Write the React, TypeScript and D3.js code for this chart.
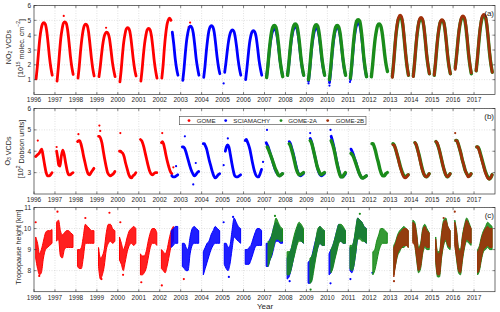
import React from 'react';
import * as d3 from 'd3';

// instruments and colours
const instruments = ['GOME', 'SCIAMACHY', 'GOME-2A', 'GOME-2B'];
const colors = ['#ff0000', '#0000ff', '#1a8c1a', '#a0300a'];

const yearTicks = d3.range(1996, 2018);

// ---- (a) NO2 VCDs, 1e15 molec/cm2 : seasonal samples at fixed fractions of the year
const no2Phase = [0.10, 0.16, 0.22, 0.28, 0.34, 0.40, 0.47, 0.54, 0.60, 0.67, 0.74, 0.81, 0.87];
type Season = [number, (number | null)[]];
const no2Gome: Season[] = [
  [1996, [1.05, 1.9, 2.9, 3.8, 4.4, 4.75, 4.85, 4.75, 4.35, 3.5, 2.5, 1.75, 1.3]],
  [1997, [0.9, 1.8, 2.85, 3.8, 4.4, 4.8, 4.9, 4.8, 4.4, 3.55, 2.55, 1.8, 1.35]],
  [1998, [1.1, 1.9, 2.9, 3.7, 4.3, 4.65, 4.75, 4.65, 4.25, 3.4, 2.45, 1.7, 1.25]],
  [1999, [1.2, 1.85, 2.65, 3.35, 3.85, 4.1, 4.2, 4.1, 3.8, 3.05, 2.2, 1.6, 1.2]],
  [2000, [0.85, 1.65, 2.65, 3.5, 4.05, 4.4, 4.5, 4.4, 4.05, 3.25, 2.35, 1.65, 1.25]],
  [2001, [0.9, 1.7, 2.65, 3.45, 4.0, 4.35, 4.45, 4.35, 4.0, 3.2, 2.25, 1.55, 1.1]],
  [2002, [1.1, 1.95, 3.1, 4.0, 4.65, 5.0, 5.15, 5.0, null, null, null, null, null]],
];
const no2Scia: Season[] = [
  [2002, [null, null, null, null, null, null, null, null, 4.2, 3.4, 2.4, 1.7, 1.3]],
  [2003, [0.95, 1.75, 2.75, 3.6, 4.15, 4.5, 4.6, 4.5, 4.15, 3.35, 2.4, 1.75, 1.3]],
  [2004, [1.15, 1.9, 2.85, 3.65, 4.25, 4.55, 4.65, 4.55, 4.2, 3.4, 2.5, 1.8, 1.4]],
  [2005, [1.5, 2.15, 2.9, 3.55, 4.0, 4.25, 4.35, 4.25, 3.9, 3.2, 2.35, 1.7, 1.3]],
  [2006, [1.0, 1.75, 2.6, 3.4, 3.9, 4.2, 4.3, 4.2, 3.9, 3.15, 2.3, 1.7, 1.3]],
  [2007, [1.2, 1.9, 2.75, 3.5, 4.0, 4.3, 4.4, 4.3, 3.95, 3.2, 2.3, 1.65, 1.25]],
  [2008, [1.3, 2.0, 2.9, 3.65, 4.15, 4.45, 4.55, 4.45, 4.1, 3.3, 2.4, 1.7, 1.3]],
  [2009, [0.9, 1.7, 2.65, 3.45, 4.0, 4.35, 4.45, 4.35, 4.0, 3.25, 2.35, 1.7, 1.3]],
  [2010, [0.8, 1.6, 2.6, 3.45, 4.05, 4.4, 4.5, 4.4, 4.05, 3.3, 2.4, 1.7, 1.3]],
  [2011, [1.0, 1.85, 2.85, 3.75, 4.35, 4.7, 4.8, 4.7, 4.3, 3.45, 2.4, 1.65, 1.2]],
];
const no2Gome2a: Season[] = [
  [2007, [1.15, 1.9, 2.85, 3.65, 4.25, 4.55, 4.65, 4.55, 4.15, 3.35, 2.35, 1.65, 1.2]],
  [2008, [1.3, 2.05, 3.0, 3.8, 4.35, 4.65, 4.75, 4.65, 4.25, 3.45, 2.45, 1.75, 1.3]],
  [2009, [1.0, 1.8, 2.8, 3.65, 4.25, 4.6, 4.7, 4.6, 4.2, 3.4, 2.45, 1.75, 1.3]],
  [2010, [1.0, 1.8, 2.8, 3.65, 4.2, 4.55, 4.65, 4.55, 4.2, 3.4, 2.45, 1.75, 1.3]],
  [2011, [1.1, 1.95, 3.05, 3.95, 4.6, 4.95, 5.05, 4.95, 4.5, 3.6, 2.5, 1.7, 1.2]],
  [2012, [1.2, 2.0, 2.95, 3.75, 4.3, 4.65, 4.75, 4.65, 4.3, 3.55, 2.65, 1.95, 1.55]],
  [2013, [1.2, 2.1, 3.15, 4.1, 4.7, 5.1, 5.2, 5.1, 4.65, 3.7, 2.65, 1.8, 1.3]],
  [2014, [1.25, 2.1, 3.15, 4.0, 4.65, 5.0, 5.1, 5.0, 4.6, 3.7, 2.65, 1.9, 1.4]],
  [2015, [1.3, 2.1, 3.1, 3.95, 4.55, 4.9, 5.0, 4.9, 4.5, 3.65, 2.6, 1.85, 1.4]],
  [2016, [1.8, 2.55, 3.45, 4.25, 4.8, 5.1, 5.2, 5.1, 4.65, 3.75, 2.7, 1.9, 1.4]],
  [2017, [1.6, 2.4, 3.4, 4.25, 4.85, 5.2, 5.3, 5.2, 4.75, 3.85, 2.8, 2.0, 1.5]],
];
const no2Gome2b: Season[] = [
  [2013, [1.15, 2.05, 3.2, 4.15, 4.85, 5.2, 5.35, 5.25, 4.8, 3.8, 2.7, 1.85, 1.3]],
  [2014, [1.2, 2.1, 3.15, 4.1, 4.7, 5.1, 5.2, 5.1, 4.65, 3.75, 2.7, 1.9, 1.4]],
  [2015, [1.3, 2.15, 3.15, 4.0, 4.6, 4.95, 5.05, 4.95, 4.55, 3.65, 2.65, 1.85, 1.4]],
  [2016, [1.7, 2.5, 3.45, 4.3, 4.85, 5.2, 5.3, 5.2, 4.75, 3.85, 2.75, 1.95, 1.45]],
  [2017, [1.6, 2.45, 3.45, 4.35, 4.95, 5.3, 5.4, 5.3, 4.85, 3.9, 2.85, 2.0, 1.5]],
];
// [decimal year, value, instrument index]
const no2Extra: [number, number, number][] = [
  [1997.42, 5.3, 0], [1999.44, 4.5, 0], [2003.12, 1.0, 0], [2003.3, 3.8, 0], [2003.38, 4.55, 0],
  [2003.45, 4.85, 0], [2005.05, 0.75, 1], [2009.1, 0.75, 1], [2010.1, 0.6, 1], [2011.08, 0.85, 1],
];

// ---- (b) O3 VCDs, 100 DU
const o3Phase = [0.08, 0.13, 0.18, 0.24, 0.30, 0.37, 0.44, 0.51, 0.58, 0.65, 0.72, 0.79, 0.86];
const o3Gome: Season[] = [
  [1996, [3.75, 3.8, 3.85, 3.9, 4.0, 4.1, 3.75, 3.35, 3.0, 2.85, 2.85, 2.9, 3.0]],
  [1997, [4.0, 3.7, 3.35, 3.3, 3.75, 4.05, 3.85, 3.45, 3.1, 2.9, 2.9, 2.95, 3.0]],
  [1998, [4.45, 4.5, 4.5, 4.35, 4.1, 3.75, 3.45, 3.15, 2.95, 2.9, 3.0, 3.1, 3.2]],
  [1999, [4.7, 4.7, 4.6, 4.4, 4.05, 3.65, 3.3, 3.0, 2.9, 2.85, 2.9, 2.95, 3.05]],
  [2000, [4.0, 4.0, 3.95, 3.9, 3.75, 3.45, 3.2, 2.95, 2.8, 2.75, 2.85, 2.9, 3.0]],
  [2001, [4.55, 4.5, 4.4, 4.2, 3.95, 3.65, 3.35, 3.1, 2.95, 2.9, 2.95, 3.0, 3.0]],
  [2002, [4.4, 4.45, 4.35, 4.1, 3.8, 3.5, 3.25, 3.05, 2.95, null, null, null, null]],
];
const o3Scia: Season[] = [
  [2002, [null, null, null, null, null, null, null, null, 2.85, 2.8, 2.8, 2.85, 2.9]],
  [2003, [4.2, 4.2, 4.15, 4.0, 3.8, 3.55, 3.3, 3.1, 2.95, 2.85, 2.9, 3.0, 3.05]],
  [2004, [4.35, 4.35, 4.25, 4.1, 3.85, 3.55, 3.3, 3.05, 2.85, 2.75, 2.8, 2.9, 2.95]],
  [2005, [null, 4.0, 4.2, 4.3, 4.2, 3.85, 3.45, 3.1, 2.85, 2.8, 2.8, 2.85, 2.9]],
  [2006, [4.5, 4.55, 4.45, 4.3, 4.1, 3.75, 3.4, 3.1, 2.9, 2.8, 2.8, 2.95, 3.15]],
  [2007, [4.4, 4.3, 4.2, 4.0, 3.8, 3.6, 3.35, 3.15, 3.0, 2.9, 2.85, 2.9, 2.95]],
  [2008, [null, null, 4.45, 4.35, 4.15, 3.9, 3.6, 3.3, 3.05, 2.9, 2.85, 2.9, 2.95]],
  [2009, [null, null, 4.6, 4.45, 4.2, 3.9, 3.6, 3.3, 3.05, 2.9, 2.85, 2.9, 2.95]],
  [2010, [null, null, 4.7, 4.5, 4.25, 3.9, 3.55, 3.25, 3.0, 2.8, 2.8, 2.85, 2.95]],
  [2011, [null, 4.1, 4.0, 3.85, 3.65, 3.45, 3.2, 3.0, 2.85, 2.75, 2.75, 2.8, 2.85]],
];
const o3Gome2a: Season[] = [
  [2007, [null, 4.2, 4.1, 3.95, 3.8, 3.6, 3.4, 3.2, 3.05, 2.9, 2.85, 2.9, 2.95]],
  [2008, [null, null, 4.35, 4.25, 4.05, 3.8, 3.5, 3.2, 3.0, 2.9, 2.9, 2.95, 3.0]],
  [2009, [null, null, 4.5, 4.4, 4.2, 3.9, 3.6, 3.3, 3.1, 2.95, 2.9, 2.95, 3.0]],
  [2010, [null, null, 4.5, 4.35, 4.15, 3.85, 3.5, 3.2, 2.95, 2.8, 2.8, 2.9, 3.0]],
  [2011, [null, 3.9, 3.85, 3.75, 3.6, 3.4, 3.2, 3.0, 2.85, 2.75, 2.75, 2.8, 2.85]],
  [2012, [null, 4.35, 4.35, 4.2, 4.0, 3.7, 3.45, 3.15, 2.95, 2.85, 2.85, 2.95, 3.0]],
  [2013, [null, 4.35, 4.3, 4.15, 3.95, 3.7, 3.45, 3.2, 3.0, 2.85, 2.8, 2.85, 2.9]],
  [2014, [null, null, 4.4, 4.3, 4.1, 3.85, 3.55, 3.25, 3.0, 2.85, 2.8, 2.85, 2.95]],
  [2015, [null, null, 4.45, 4.35, 4.2, 3.95, 3.65, 3.35, 3.1, 2.9, 2.8, 2.85, 2.95]],
  [2016, [null, 4.5, 4.5, 4.35, 4.15, 3.9, 3.6, 3.35, 3.1, 2.95, 2.85, 2.85, 2.95]],
  [2017, [null, 4.2, 4.2, 4.1, 3.9, 3.65, 3.4, 3.15, 2.95, 2.8, 2.7, 2.75, 2.9]],
];
const o3Gome2b: Season[] = [
  [2013, [null, 4.3, 4.3, 4.15, 3.95, 3.7, 3.4, 3.15, 2.95, 2.8, 2.75, 2.8, 2.9]],
  [2014, [null, null, 4.4, 4.3, 4.1, 3.8, 3.5, 3.2, 3.0, 2.85, 2.8, 2.85, 2.95]],
  [2015, [null, null, 4.45, 4.4, 4.2, 3.95, 3.65, 3.35, 3.1, 2.9, 2.8, 2.85, 2.95]],
  [2016, [null, 4.5, 4.5, 4.35, 4.15, 3.9, 3.6, 3.35, 3.1, 2.95, 2.8, 2.85, 2.95]],
  [2017, [null, 4.2, 4.2, 4.05, 3.85, 3.6, 3.35, 3.1, 2.9, 2.75, 2.7, 2.75, 2.9]],
];
const o3Extra: [number, number, number][] = [
  [1996.18, 4.5, 0], [1997.08, 4.2, 0], [1998.12, 4.8, 0], [1999.12, 5.2, 0], [1999.16, 4.95, 0],
  [2000.12, 4.85, 0], [2002.12, 4.85, 0], [2002.65, 3.25, 0], [2003.2, 4.7, 1], [2003.6, 2.45, 1],
  [2003.72, 3.45, 1], [2002.78, 3.3, 1], [2005.05, 3.35, 1], [2005.25, 4.6, 1], [2006.93, 3.5, 1],
  [2007.12, 5.0, 1], [2009.18, 4.85, 1], [2010.15, 5.0, 1], [2016.1, 4.85, 3],
];

// ---- (c) tropopause height, km : lower / upper edge of the cloud
const tpPhase = [0.08, 0.17, 0.26, 0.35, 0.45, 0.55, 0.65, 0.75, 0.86];
type Band = [number, (number | null)[], (number | null)[]];
const tpGome: Band[] = [
  [1996, [8.6, 8.1, 7.8, 7.9, 8.6, 9.0, 9.1, 9.2, 9.3], [9.6, 9.3, 8.8, 9.0, 9.4, 9.8, 9.9, 9.9, 9.95]],
  [1997, [9.4, 9.5, 8.7, 8.6, 9.0, 9.1, 9.1, 9.1, 9.1], [10.3, 10.4, 9.9, 9.7, 9.8, 9.9, 9.9, 9.8, 9.7]],
  [1998, [8.2, 8.1, 8.1, 8.6, 9.3, 9.3, 9.3, 9.3, 9.3], [9.0, 9.0, 9.1, 9.6, 10.2, 10.1, 10.0, 9.9, 9.9]],
  [1999, [8.2, 7.6, 7.8, 8.2, 9.0, 9.3, 9.4, 9.3, 9.4], [9.1, 8.6, 8.7, 9.0, 9.8, 10.2, 10.2, 10.0, 9.9]],
  [2000, [8.5, 8.3, 8.0, 8.4, 8.9, 9.2, 9.3, 9.2, 9.3], [9.6, 9.3, 9.0, 9.2, 9.6, 9.9, 10.0, 10.1, 10.0]],
  [2001, [7.8, 7.8, 7.9, 8.1, 8.6, 9.1, 9.3, 9.3, 9.2], [8.8, 8.7, 8.7, 8.9, 9.4, 9.8, 10.0, 10.0, 9.8]],
  [2002, [8.1, 8.0, 7.9, 8.2, 8.7, 9.2, 9.4, null, null], [9.0, 8.9, 8.8, 9.0, 9.5, 9.9, 10.1, null, null]],
];
const tpScia: Band[] = [
  [2002, [null, null, null, null, null, 9.1, 9.2, 9.3, 9.3], [null, null, null, null, null, 9.9, 10.0, 10.1, 10.1]],
  [2003, [8.2, 8.1, 8.0, 8.0, 8.8, 9.2, 9.3, 9.3, 9.3], [9.3, 9.3, 9.1, 9.0, 9.6, 10.0, 10.1, 10.0, 9.9]],
  [2004, [7.8, 8.1, 8.4, 8.7, 9.0, 9.2, 9.3, 9.3, 9.3], [8.9, 9.1, 9.3, 9.4, 9.7, 9.9, 10.1, 10.0, 9.9]],
  [2005, [8.3, 8.1, 8.0, 8.3, 9.0, 9.6, 9.5, 9.4, 9.3], [9.3, 9.3, 9.1, 9.2, 9.9, 10.5, 10.3, 10.1, 10.0]],
  [2006, [8.3, 8.3, 8.3, 8.5, 8.8, 9.1, 9.2, 9.2, 9.2], [9.0, 9.0, 9.1, 9.2, 9.5, 9.8, 10.0, 10.0, 9.9]],
  [2007, [8.2, 8.2, 8.5, 8.7, 9.1, 9.4, 9.4, 9.3, 9.3], [9.3, 9.3, 9.5, 9.7, 10.1, 10.3, 10.2, 10.0, 9.9]],
  [2008, [7.6, 7.7, 8.0, 8.4, 8.9, 9.3, 9.5, 9.4, 9.3], [8.6, 8.8, 9.0, 9.3, 9.6, 10.0, 10.2, 10.1, 9.9]],
  [2009, [7.4, 7.4, 7.6, 8.2, 8.7, 9.1, 9.3, 9.2, 9.2], [8.4, 8.5, 8.7, 9.1, 9.5, 9.9, 10.1, 9.9, 9.9]],
  [2010, [7.8, 7.9, 8.2, 8.6, 9.0, 9.4, 9.4, 9.3, 9.3], [8.8, 9.0, 9.2, 9.5, 9.9, 10.2, 10.1, 10.0, 9.9]],
  [2011, [8.0, 7.9, 8.2, 8.8, 9.5, 9.6, 9.5, 9.4, 9.3], [9.1, 9.1, 9.4, 9.9, 10.5, 10.4, 10.3, 10.1, 10.0]],
];
const tpGome2a: Band[] = [
  [2007, [null, 8.2, 8.5, 8.8, 9.2, 9.5, 9.5, 9.4, 9.4], [null, 9.4, 9.4, 9.7, 10.1, 10.5, 10.3, 10.1, 10.0]],
  [2008, [7.8, 7.8, 8.0, 8.4, 8.8, 9.2, 9.4, 9.4, 9.3], [8.9, 8.9, 9.0, 9.4, 9.8, 10.1, 10.3, 10.2, 10.0]],
  [2009, [null, 7.4, 7.5, 8.0, 8.6, 9.1, 9.3, 9.2, 9.2], [null, 8.6, 8.7, 9.0, 9.5, 10.0, 10.1, 10.0, 9.9]],
  [2010, [null, 7.9, 8.1, 8.5, 8.9, 9.3, 9.4, 9.3, 9.3], [null, 9.0, 9.2, 9.5, 9.9, 10.2, 10.2, 10.1, 9.9]],
  [2011, [8.1, 8.0, 8.2, 8.8, 9.5, 9.5, 9.4, 9.4, 9.3], [9.2, 9.2, 9.4, 10.0, 10.5, 10.4, 10.3, 10.1, 10.0]],
  [2012, [null, 7.8, 8.0, 8.4, 8.9, 9.2, 9.3, 9.3, 9.3], [null, 8.9, 9.0, 9.4, 9.7, 10.0, 10.0, 9.9, 9.8]],
  [2013, [null, 7.8, 8.3, 8.7, 8.9, 9.1, 9.1, 9.2, 9.1], [null, 9.2, 9.4, 9.7, 9.9, 10.0, 10.1, 10.0, 9.9]],
  [2014, [9.4, 9.2, 8.5, 7.9, 8.1, 8.8, 9.1, 9.0, 9.0], [10.4, 10.3, 9.8, 9.1, 9.3, 10.0, 10.2, 10.0, 9.8]],
  [2015, [null, 8.4, 7.7, 7.7, 8.6, 9.2, 9.4, 9.1, 9.0], [null, 9.6, 8.9, 8.9, 9.8, 10.4, 10.5, 10.1, 9.9]],
  [2016, [9.3, 8.5, 7.9, 7.8, 8.5, 9.1, 9.4, 9.3, 9.2], [10.4, 9.9, 9.1, 9.0, 9.7, 10.2, 10.5, 10.3, 10.0]],
  [2017, [null, 7.8, 8.0, 8.5, 8.9, 9.0, 9.1, 9.0, 9.0], [null, 9.0, 9.2, 9.6, 9.9, 10.1, 10.3, 10.2, 10.1]],
];
const tpGome2b: Band[] = [
  [2013, [null, 7.7, 8.3, 8.8, 9.0, 9.1, 9.2, 9.2, 9.1], [null, 9.1, 9.3, 9.6, 9.8, 9.9, 10.0, 10.0, 9.9]],
  [2014, [9.3, 9.2, 8.6, 8.0, 8.2, 8.9, 9.2, 9.1, 9.1], [10.3, 10.2, 9.7, 9.0, 9.2, 9.9, 10.1, 9.9, 9.8]],
  [2015, [null, 8.5, 7.8, 7.8, 8.7, 9.3, 9.5, 9.2, 9.1], [null, 9.5, 8.8, 8.8, 9.7, 10.3, 10.4, 10.1, 9.9]],
  [2016, [9.2, 8.6, 8.0, 7.9, 8.6, 9.2, 9.5, 9.4, 9.3], [10.3, 9.8, 9.0, 8.9, 9.6, 10.1, 10.4, 10.2, 10.0]],
  [2017, [null, 7.9, 8.1, 8.6, 9.0, 9.1, 9.2, 9.1, 9.1], [null, 8.9, 9.1, 9.5, 9.8, 10.0, 10.1, 10.0, 10.0]],
];
const tpExtra: [number, number, number][] = [
  [1996.08, 10.3, 0], [1996.25, 7.75, 0], [1997.12, 10.8, 0], [1998.45, 10.5, 0], [1999.22, 7.6, 0],
  [1999.6, 10.75, 0], [2000.12, 10.3, 0], [2000.25, 7.8, 0], [2001.12, 7.45, 0], [2002.1, 7.3, 0],
  [2003.15, 7.6, 0], [2005.05, 10.3, 1], [2005.3, 7.7, 1], [2005.5, 10.55, 1], [2008.2, 7.5, 1],
  [2009.18, 6.9, 1], [2009.2, 7.1, 2], [2010.15, 7.4, 1], [2011.1, 7.6, 1], [2011.55, 10.7, 2],
  [2007.5, 10.6, 2], [2016.08, 10.8, 3], [2015.55, 10.5, 3], [2012.15, 7.9, 1], [2013.18, 7.5, 3],
];

const W = 500;
const H = 312;
const x = d3.scaleLinear().domain([1996, 2018]).range([34, 495]);

const font = 'Liberation Sans, Arial, Helvetica, sans-serif';

type PanelDef = {
  key: string;
  top: number;
  bottom: number;
  domain: [number, number];
  ticks: number[];
};
const panelDefs: PanelDef[] = [
  { key: 'a', top: 5.5, bottom: 94.5, domain: [0, 6], ticks: [1, 2, 3, 4, 5, 6] },
  { key: 'b', top: 108.5, bottom: 194, domain: [2, 6], ticks: [3, 4, 5, 6] },
  { key: 'c', top: 207.5, bottom: 291.7, domain: [7, 11], ticks: [8, 9, 10, 11] },
];

function Frame({ p, y }: { p: PanelDef; y: d3.ScaleLinear<number, number> }) {
  const [x0, x1] = x.range();
  return (
    <g>
      {yearTicks.slice(1).map((t) => (
        <line key={'gx' + t} x1={x(t)} x2={x(t)} y1={p.top} y2={p.bottom}
          stroke="#c4c4c4" strokeWidth={0.5} strokeDasharray="1,1.5" />
      ))}
      {p.ticks.map((t) => (
        <line key={'gy' + t} x1={x0} x2={x1} y1={y(t)} y2={y(t)}
          stroke="#c4c4c4" strokeWidth={0.5} strokeDasharray="1,1.5" />
      ))}
    </g>
  );
}

function Axes({ p, y }: { p: PanelDef; y: d3.ScaleLinear<number, number> }) {
  const [x0, x1] = x.range();
  const tl = 2.5;
  return (
    <g fontFamily={font} fill="#262626">
      <rect x={x0} y={p.top} width={x1 - x0} height={p.bottom - p.top} fill="none" stroke="#333" strokeWidth={0.7} />
      {yearTicks.map((t) => (
        <g key={'tx' + t}>
          <line x1={x(t)} x2={x(t)} y1={p.bottom} y2={p.bottom - tl} stroke="#333" strokeWidth={0.6} />
          <line x1={x(t)} x2={x(t)} y1={p.top} y2={p.top + tl} stroke="#333" strokeWidth={0.6} />
          <text x={x(t)} y={p.bottom + 5.3} fontSize={6.5} textAnchor="middle" dominantBaseline="central">{t}</text>
        </g>
      ))}
      {p.ticks.map((t) => (
        <g key={'ty' + t}>
          <line x1={x0} x2={x0 + tl} y1={y(t)} y2={y(t)} stroke="#333" strokeWidth={0.6} />
          <line x1={x1} x2={x1 - tl} y1={y(t)} y2={y(t)} stroke="#333" strokeWidth={0.6} />
          <text x={31} y={y(t)} fontSize={6.5} textAnchor="end" dominantBaseline="central">{t}</text>
        </g>
      ))}
      <text x={494} y={p.top + 7.5} fontSize={8} textAnchor="end" dominantBaseline="central">({p.key})</text>
    </g>
  );
}

function seasonPts(phase: number[], s: Season): [number, number | null][] {
  return phase.map((f, i) => [s[0] + f, s[1][i]]);
}

function LinePanel({ p, phase, series, extra, width }: {
  p: PanelDef; phase: number[]; series: Season[][]; extra: [number, number, number][]; width: number;
}) {
  const y = d3.scaleLinear().domain(p.domain).range([p.bottom, p.top]);
  const line = d3.line<[number, number | null]>()
    .defined((d) => d[1] != null)
    .x((d) => x(d[0]))
    .y((d) => y(d[1] as number))
    .curve(d3.curveMonotoneX);
  return (
    <g>
      <Frame p={p} y={y} />
      <g clipPath={`url(#clip-${p.key})`}>
        {series.map((seasons, k) => (
          <g key={k}>
            {seasons.map((s) => (
              <path key={s[0]} d={line(seasonPts(phase, s)) || ''} fill="none" stroke={colors[k]}
                strokeWidth={k === 2 ? width + 0.6 : width} strokeLinecap="round" strokeLinejoin="round" />
            ))}
            {extra.filter((e) => e[2] === k).map((e, i) => (
              <circle key={i} cx={x(e[0])} cy={y(e[1])} r={1.1} fill={colors[k]} />
            ))}
          </g>
        ))}
      </g>
      <Axes p={p} y={y} />
    </g>
  );
}

function BandPanel({ p, phase, series, extra }: {
  p: PanelDef; phase: number[]; series: Band[][]; extra: [number, number, number][];
}) {
  const y = d3.scaleLinear().domain(p.domain).range([p.bottom, p.top]);
  const area = d3.area<[number, number | null, number | null]>()
    .defined((d) => d[1] != null && d[2] != null)
    .x((d) => x(d[0]))
    .y0((d) => y(d[1] as number))
    .y1((d) => y(d[2] as number))
    .curve(d3.curveMonotoneX);
  return (
    <g>
      <Frame p={p} y={y} />
      <g clipPath={`url(#clip-${p.key})`}>
        {series.map((bands, k) => (
          <g key={k}>
            {bands.map((b) => {
              const pts = phase.map((f, i) => [b[0] + f, b[1][i], b[2][i]] as [number, number | null, number | null]);
              return (
                <path key={b[0]} d={area(pts) || ''} fill={colors[k]} fillOpacity={0.88}
                  stroke={colors[k]} strokeWidth={1} strokeLinejoin="round" />
              );
            })}
            {extra.filter((e) => e[2] === k).map((e, i) => (
              <circle key={i} cx={x(e[0])} cy={y(e[1])} r={1.1} fill={colors[k]} />
            ))}
          </g>
        ))}
      </g>
      <Axes p={p} y={y} />
    </g>
  );
}

function Legend() {
  const dotX = [189, 225.7, 281, 327.7];
  const textX = [196.7, 233.3, 288.3, 335.7];
  const cy = 120.6;
  return (
    <g fontFamily={font}>
      <rect x={179.5} y={116.5} width={186.5} height={8.2} fill="#fff" stroke="#444" strokeWidth={0.6} />
      {instruments.map((name, i) => (
        <g key={name}>
          <circle cx={dotX[i]} cy={cy} r={1.4} fill={colors[i]} />
          <text x={textX[i]} y={cy} fontSize={6.2} dominantBaseline="central" fill="#262626">{name}</text>
        </g>
      ))}
    </g>
  );
}

export default function App() {
  const [pa, pb, pc] = panelDefs;
  const [x0, x1] = x.range();
  return (
    <svg width={W} height={H} viewBox={`0 0 ${W} ${H}`}
      style={{ position: 'fixed', left: 0, top: 0, background: '#fff', display: 'block' }}>
      <defs>
        {panelDefs.map((p) => (
          <clipPath key={p.key} id={`clip-${p.key}`}>
            <rect x={x0} y={p.top} width={x1 - x0} height={p.bottom - p.top} />
          </clipPath>
        ))}
      </defs>
      <rect width={W} height={H} fill="#fff" />

      <LinePanel p={pa} phase={no2Phase} series={[no2Gome, no2Scia, no2Gome2a, no2Gome2b]} extra={no2Extra} width={2.8} />
      <LinePanel p={pb} phase={o3Phase} series={[o3Gome, o3Scia, o3Gome2a, o3Gome2b]} extra={o3Extra} width={2.8} />
      <Legend />
      <BandPanel p={pc} phase={tpPhase} series={[tpGome, tpScia, tpGome2a, tpGome2b]} extra={tpExtra} />

      <g fontFamily={font} fill="#262626" fontSize={7.2}>
        <text transform="translate(8.3,47) rotate(-90)" textAnchor="middle" dominantBaseline="central">
          NO<tspan fontSize={5} dy={1.5}>2</tspan><tspan dy={-1.5}> VCDs</tspan>
        </text>
        <text transform="translate(20.5,48) rotate(-90)" textAnchor="middle" dominantBaseline="central">
          [10<tspan fontSize={5} dy={-2.5}>15</tspan><tspan dy={2.5}> molec. cm</tspan><tspan fontSize={5} dy={-2.5}>−2</tspan><tspan dy={2.5}>]</tspan>
        </text>
        <text transform="translate(7.5,151) rotate(-90)" textAnchor="middle" dominantBaseline="central">
          O<tspan fontSize={5} dy={1.5}>3</tspan><tspan dy={-1.5}> VCDs</tspan>
        </text>
        <text transform="translate(20.5,149) rotate(-90)" textAnchor="middle" dominantBaseline="central">
          [10<tspan fontSize={5} dy={-2.5}>2</tspan><tspan dy={2.5}> Dobson units]</tspan>
        </text>
        <text transform="translate(18,247) rotate(-90)" textAnchor="middle" dominantBaseline="central">
          Tropopause height [km]
        </text>
        <text x={265} y={306.5} fontSize={8} textAnchor="middle" dominantBaseline="central">Year</text>
      </g>
    </svg>
  );
}
